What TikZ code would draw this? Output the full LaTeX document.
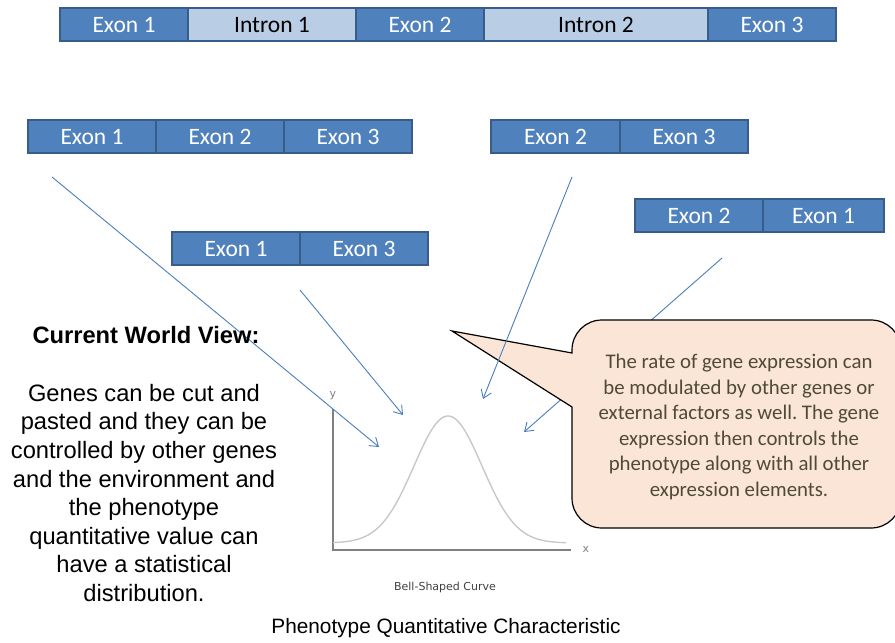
\documentclass[tikz,border=0pt]{standalone}
\usepackage{fontspec}
\setmainfont{Carlito}
\newfontfamily\arialfont{Liberation Sans}
\newfontfamily\chartfont{DejaVu Sans}
\usetikzlibrary{arrows.meta}
\frenchspacing

\definecolor{exonfill}{HTML}{4F81BD}
\definecolor{exonline}{HTML}{385D8A}
\definecolor{intronfill}{HTML}{B9CDE5}
\definecolor{linkblue}{HTML}{4A7EBB}
\definecolor{calloutfill}{HTML}{FBE5D6}
\definecolor{callouttext}{HTML}{4F4A36}
\definecolor{axisgray}{HTML}{808080}
\definecolor{curvegray}{HTML}{C8C8C8}

\tikzset{
  segment/.style={draw=exonline, line width=1.6pt, minimum height=33pt,
    inner sep=0pt, outer sep=0pt, anchor=north west,
    text height=15pt, text depth=0pt,
    font=\fontsize{23.5}{27}\selectfont},
  exonbox/.style={segment, fill=exonfill, text=white},
  intronbox/.style={segment, fill=intronfill, text=black},
  link/.style={draw=linkblue, line width=0.9pt,
    -{Straight Barb[length=8pt,width=11pt]}},
}

\begin{document}
\begin{tikzpicture}[x=1pt,y=-1pt]
\useasboundingbox (0,0) rectangle (895,643);
\clip (0,0) rectangle (895,643);

% unspliced gene
\node[exonbox,   minimum width=128pt] (g1) at (60,8)  {Exon 1};
\node[intronbox, minimum width=168pt] (g2) at (188,8) {Intron 1};
\node[exonbox,   minimum width=128pt] (g3) at (356,8) {Exon 2};
\node[intronbox, minimum width=224pt] (g4) at (484,8) {Intron 2};
\node[exonbox,   minimum width=128pt] (g5) at (708,8) {Exon 3};

% spliced variants
\node[exonbox, minimum width=128pt] (a1) at (28,120)  {Exon 1};
\node[exonbox, minimum width=128pt] (a2) at (156,120) {Exon 2};
\node[exonbox, minimum width=128pt] (a3) at (284,120) {Exon 3};

\node[exonbox, minimum width=128pt] (b1) at (172,232) {Exon 1};
\node[exonbox, minimum width=128pt] (b2) at (300,232) {Exon 3};

\node[exonbox, minimum width=129pt] (c1) at (491,120) {Exon 2};
\node[exonbox, minimum width=128pt] (c2) at (620,120) {Exon 3};

\node[exonbox, minimum width=128pt] (d1) at (635,199) {Exon 2};
\node[exonbox, minimum width=121pt] (d2) at (763,199) {Exon 1};

% bell-shaped curve
\draw[axisgray, line width=1.4pt] (333,409) -- (333,550) -- (571,550);
\node[axisgray, font=\chartfont\fontsize{11}{13}\selectfont] (ylab) at (333,396) {y};
\node[axisgray, font=\chartfont\fontsize{11}{13}\selectfont] (xlab) at (586,549) {x};
\draw[curvegray, line width=1.4pt]
  plot[domain=333:566, samples=120, smooth] (\x, {543-127*exp(-((\x-448)^2)/(2*34^2))});
\node[black!75, font=\chartfont\fontsize{11}{13}\selectfont] (bell) at (445,587) {Bell-Shaped Curve};

% connector end points
\coordinate (s1) at (52,177);   \coordinate (e1) at (379,447);
\coordinate (s2) at (300,290);  \coordinate (e2) at (403,415);
\coordinate (s3) at (572,177);  \coordinate (e3) at (483,399);
\coordinate (s4) at (722,258);  \coordinate (e4) at (524,432);

\draw[link] (s4) -- (e4);

% speech callout
\draw[fill=calloutfill, draw=black, line width=1.2pt]
  (452,331) -- (572,353) -- (572,350)
  .. controls (572,333.4) and (585.4,320) .. (602,320) -- (871,320)
  .. controls (887.6,320) and (901,333.4) .. (901,350) -- (901,498)
  .. controls (901,514.6) and (887.6,528) .. (871,528) -- (602,528)
  .. controls (585.4,528) and (572,514.6) .. (572,498) -- (572,407) -- cycle;
\node[text=callouttext, align=center, font=\fontsize{20.8}{25.6}\selectfont]
  (note) at (739,427)
  {The rate of gene expression can\\be modulated by other genes or\\external factors as well. The gene\\expression then controls the\\phenotype along with all other\\expression elements.};

\draw[link] (s1) -- (e1);
\draw[link] (s2) -- (e2);
\draw[link] (s3) -- (e3);

% left-hand text
\node[font=\arialfont\bfseries\fontsize{23.7}{28}\selectfont] (title) at (146,335) {Current World View:};
\node[align=center, inner sep=0pt, anchor=north,
  font=\arialfont\fontsize{23.7}{28.6}\selectfont] (view) at (144,384)
  {Genes can be cut and\\pasted and they can be\\controlled by other genes\\and the environment and\\the phenotype\\quantitative value can\\have a statistical\\distribution.};

\node[font=\arialfont\fontsize{20.8}{25}\selectfont] (caption) at (446,628)
  {Phenotype Quantitative Characteristic};
\end{tikzpicture}
\end{document}
